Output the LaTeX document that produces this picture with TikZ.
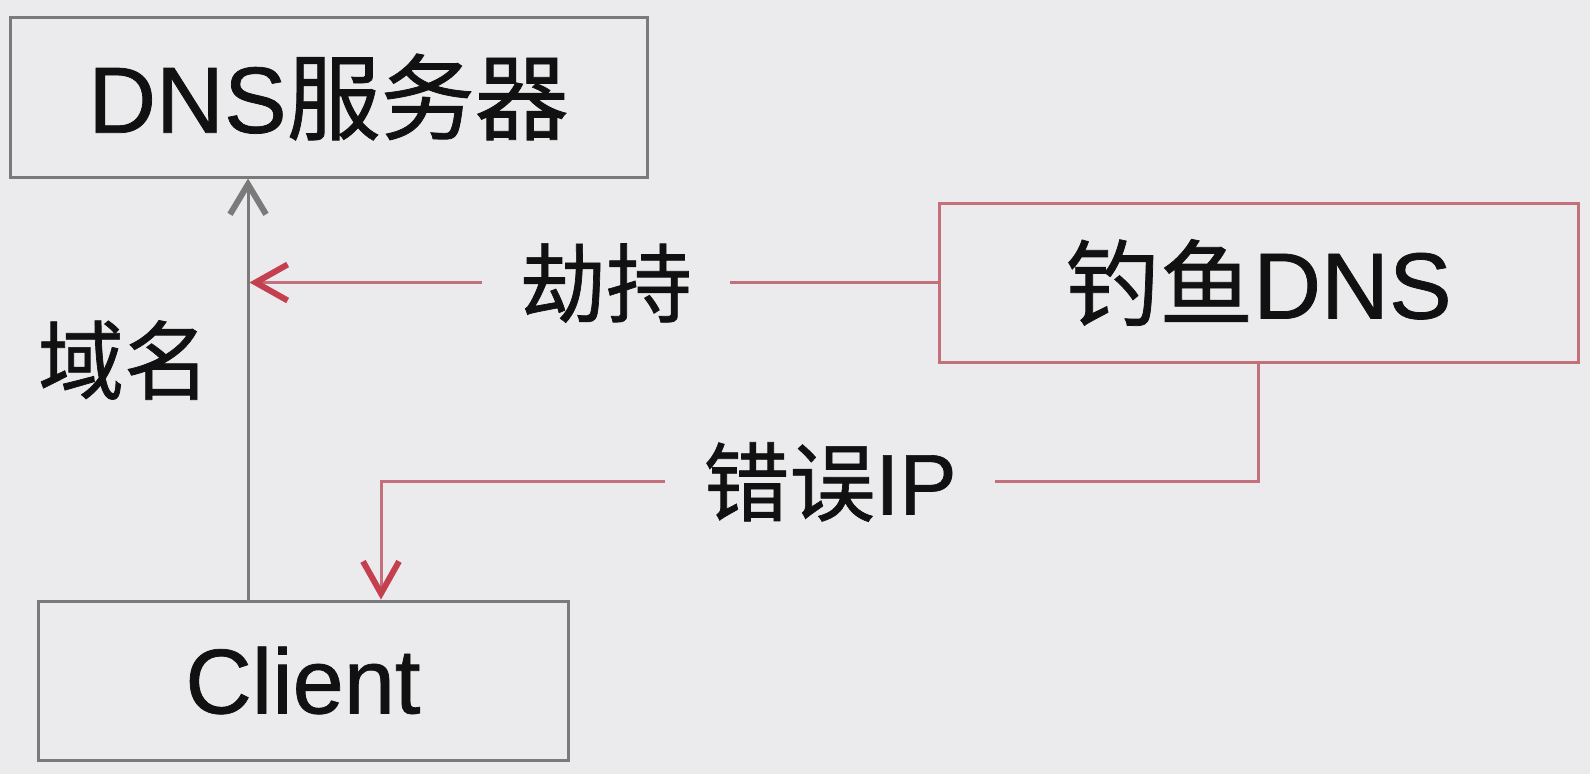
\documentclass[tikz,border=0pt]{standalone}
\usepackage{fontspec}
\setmainfont[FakeBold=0.8]{Liberation Sans}
\newfontfamily\cjk[FakeBold=0.8]{Noto Sans CJK SC}
\usetikzlibrary{arrows.meta}
\definecolor{bg}{HTML}{EBEAEC}
\definecolor{boxgray}{HTML}{7A7A7A}
\definecolor{pinkline}{HTML}{C4707A}
\definecolor{redtip}{HTML}{C4404E}
\definecolor{ink}{HTML}{111111}
\tikzset{
  box/.style={draw=boxgray, line width=3pt, inner sep=0pt, text=ink, font=\fontsize{94}{100}\selectfont},
  fishbox/.style={box, draw=pinkline},
  lbl/.style={text=ink, font=\fontsize{86}{100}\selectfont, inner sep=0pt},
  gaplbl/.style={lbl, fill=bg, inner xsep=38pt, inner ysep=4pt},
  grayarrow/.style={draw=boxgray, line width=3pt, -{Straight Barb[length=30pt,width=36pt,line width=6pt]}},
  redarrow/.style={draw=pinkline, line width=3pt, -{Straight Barb[length=32pt,width=36pt,line width=6pt,color=redtip]}},
}
\begin{document}
\begin{tikzpicture}[x=1pt,y=-1pt]
\fill[bg] (0,0) rectangle (1590,774);
\useasboundingbox (0,0) rectangle (1590,774);
\node[box, minimum width=637pt, minimum height=160pt] (dns) at (328.5,97) {\raisebox{-4pt}{DNS{\cjk 服务器}}};
\node[fishbox, minimum width=639pt, minimum height=159pt] (fish) at (1258.5,282.5) {{\cjk 钓鱼}DNS};
\node[box, minimum width=530pt, minimum height=159pt, font=\fontsize{92}{100}\selectfont] (client) at (303,680.5) {Client};
\coordinate (upx) at (248,0);
\coordinate (ipx) at (381,481);
\draw[grayarrow] (upx |- client.north) -- (upx |- dns.south);
\draw[redarrow] (fish.west) -- ([xshift=1.5pt]upx |- fish.west);
\draw[redarrow] (fish.south) |- (ipx) -- (ipx |- client.north);
\node[gaplbl] (hijack) at (606,283) {\cjk 劫持};
\node[gaplbl] (wrongip) at (830,482) {{\cjk 错误}IP};
\node[lbl] (domain) at (124,360) {\cjk 域名};
\end{tikzpicture}
\end{document}
